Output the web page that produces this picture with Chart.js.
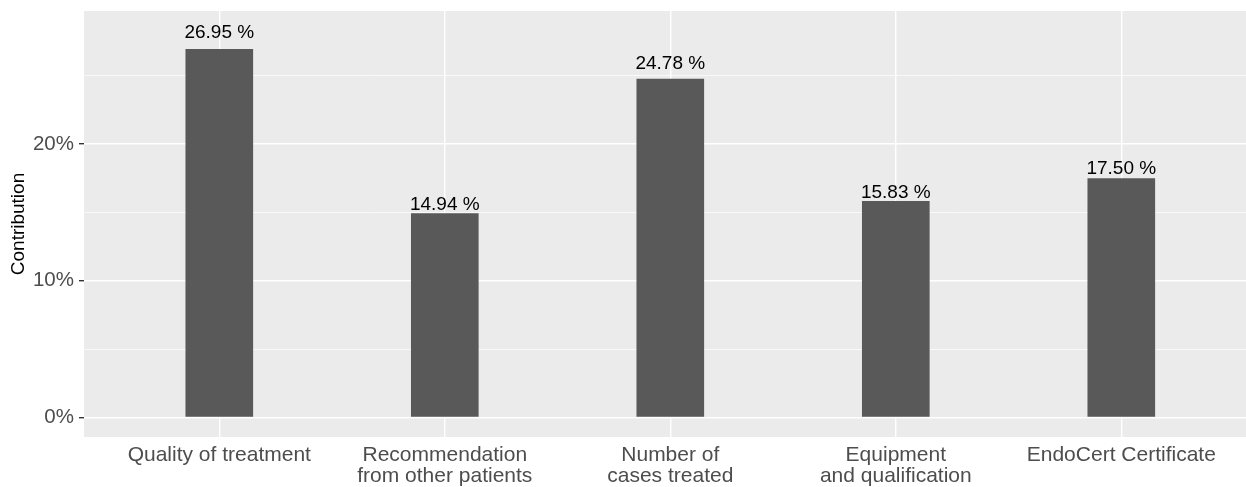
<!DOCTYPE html>
<html>
<head>
<meta charset="utf-8">
<script src="https://cdn.jsdelivr.net/npm/chart.js@4/dist/chart.umd.min.js"></script>
<style>
  html, body { margin: 0; padding: 0; background: #ffffff; }
  canvas { display: block; }
</style>
</head>
<body>
<canvas id="contribChart" width="1246" height="487"></canvas>
<script>
// データ
var categories = [
  'Quality of treatment',
  ['Recommendation', 'from other patients'],
  ['Number of', 'cases treated'],
  ['Equipment', 'and qualification'],
  'EndoCert Certificate'
];
var contribution = [26.95, 14.94, 24.78, 15.83, 17.50];
var yTickValues = [0, 5, 10, 15, 20, 25];
var yMajorTicks = [0, 10, 20];

var FONT = '"Liberation Sans", Arial, Helvetica, sans-serif';
var LABEL_LIFT = 1.05; // ラベルは値の1.05倍の位置（ggplotと同じ）

// パネル背景（ggplot風）
var panelBackground = {
  id: 'panelBackground',
  beforeDraw: function(chart) {
    var a = chart.chartArea;
    var ctx = chart.ctx;
    ctx.save();
    ctx.fillStyle = '#EBEBEB';
    ctx.fillRect(a.left, a.top, a.right - a.left, a.bottom - a.top);
    ctx.restore();
  }
};

// 棒の上の値ラベル
var barLabels = {
  id: 'barLabels',
  afterDatasetsDraw: function(chart) {
    var ctx = chart.ctx;
    var meta = chart.getDatasetMeta(0);
    var yScale = chart.scales.y;
    ctx.save();
    ctx.font = '19px ' + FONT;
    ctx.fillStyle = '#000000';
    ctx.textAlign = 'center';
    ctx.textBaseline = 'alphabetic';
    meta.data.forEach(function(bar, i) {
      var y = yScale.getPixelForValue(contribution[i] * LABEL_LIFT) + 7.3;
      ctx.fillText(contribution[i].toFixed(2) + ' %', bar.x, y);
    });
    ctx.restore();
  }
};

var points = contribution.map(function(v, i) { return { x: i, y: v }; });

function isMajor(v) {
  return yMajorTicks.indexOf(v) !== -1;
}

function noPadding(scale) {
  scale.paddingTop = 0;
  scale.paddingBottom = 0;
  scale.paddingLeft = 0;
  scale.paddingRight = 0;
}

new Chart(document.getElementById('contribChart').getContext('2d'), {
  type: 'bar',
  data: {
    datasets: [{
      data: points,
      backgroundColor: '#595959',
      borderWidth: 0,
      barPercentage: 0.3,
      categoryPercentage: 1
    }]
  },
  options: {
    responsive: false,
    animation: false,
    devicePixelRatio: 1,
    layout: { padding: { left: 0, top: 11, right: 0, bottom: 0 } },
    plugins: {
      legend: { display: false },
      tooltip: { enabled: false }
    },
    scales: {
      x: {
        type: 'linear',
        offset: false,
        min: -0.6,
        max: 4.553,
        afterBuildTicks: function(scale) {
          scale.ticks = categories.map(function(c, i) { return { value: i }; });
        },
        afterFit: function(scale) { scale.height = 50; noPadding(scale); },
        border: { display: false },
        grid: {
          offset: false,
          color: '#FFFFFF',
          lineWidth: 1.4,
          drawTicks: false
        },
        ticks: {
          autoSkip: false,
          maxRotation: 0,
          minRotation: 0,
          padding: 7,
          color: '#4D4D4D',
          font: { family: FONT, size: 21, lineHeight: 1.03 },
          callback: function(value) { return categories[value]; }
        }
      },
      y: {
        min: -1.43,
        max: 29.73,
        afterBuildTicks: function(scale) {
          scale.ticks = yTickValues.map(function(v) { return { value: v }; });
        },
        afterFit: function(scale) { scale.width = 84; noPadding(scale); },
        border: { display: false },
        grid: {
          color: '#FFFFFF',
          lineWidth: function(ctx) { return isMajor(ctx.tick.value) ? 1.4 : 0.7; },
          tickColor: function(ctx) { return isMajor(ctx.tick.value) ? '#333333' : 'rgba(0,0,0,0)'; },
          tickWidth: 1.4,
          tickLength: 5
        },
        ticks: {
          padding: 5,
          color: '#4D4D4D',
          font: { family: FONT, size: 20.5 },
          callback: function(value) { return isMajor(value) ? value + '%' : ''; }
        },
        title: {
          display: true,
          text: 'Contribution',
          color: '#000000',
          font: { family: FONT, size: 19 },
          padding: { top: 7, bottom: 0 }
        }
      }
    }
  },
  plugins: [panelBackground, barLabels]
});
</script>
</body>
</html>
